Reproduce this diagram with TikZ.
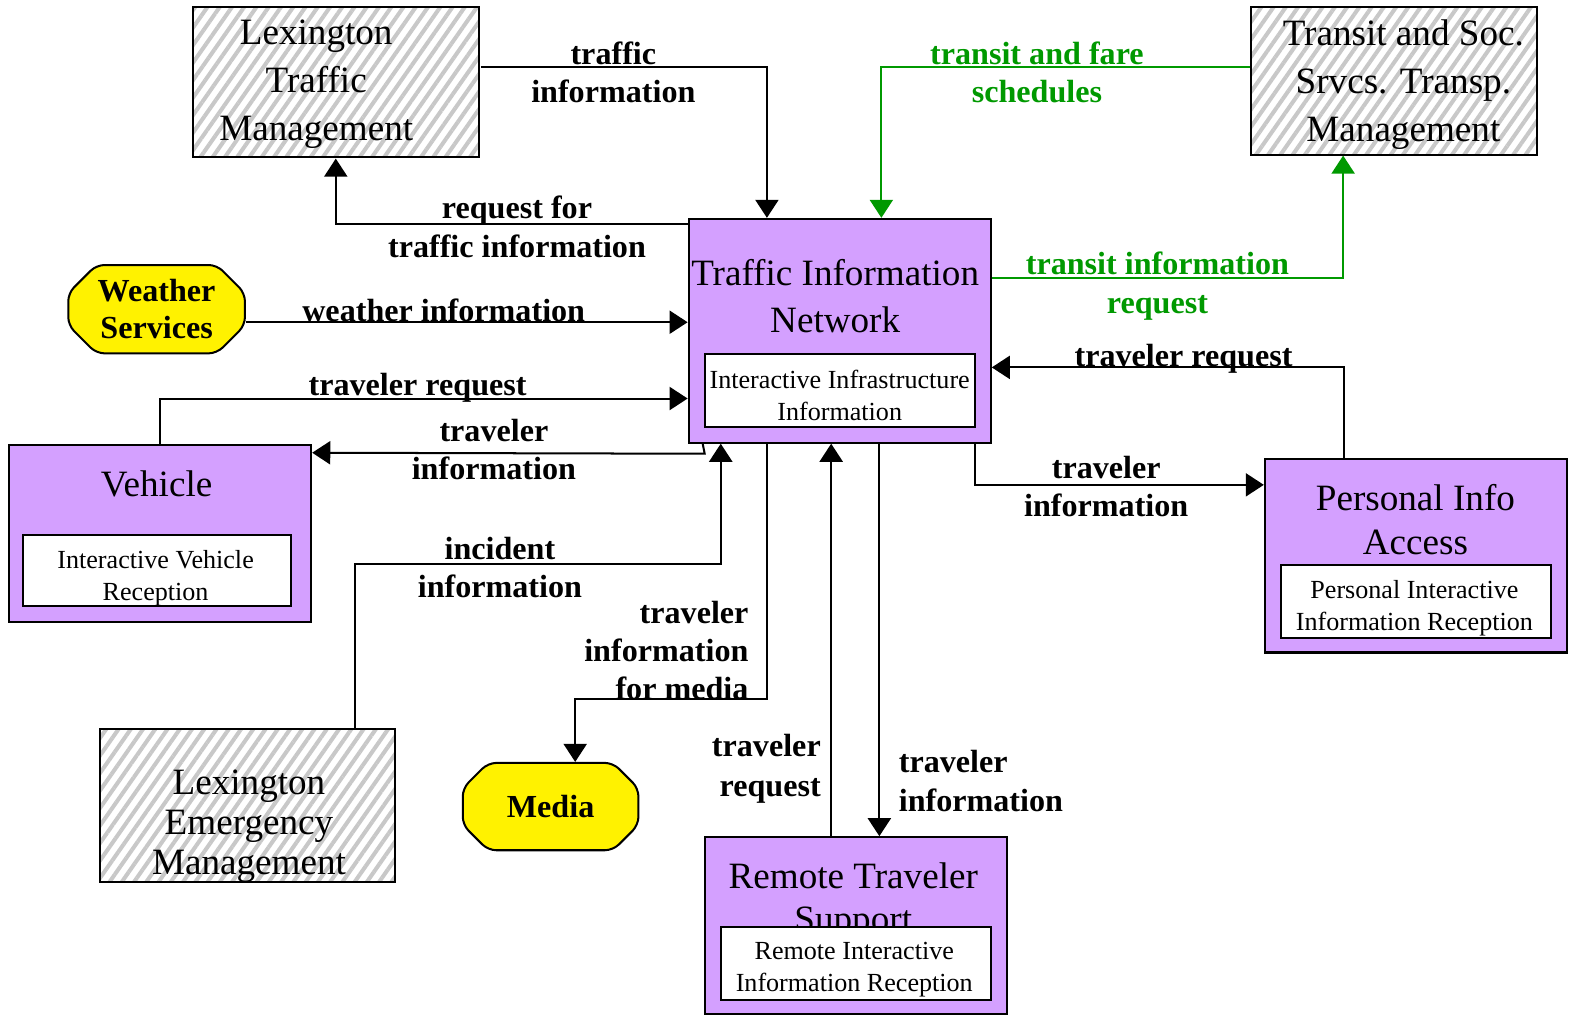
\documentclass[tikz,border=0pt]{standalone}
\usepackage{fontspec}
\setmainfont{Liberation Serif}
\usepackage{tikz}
\usetikzlibrary{arrows.meta,shapes.misc,patterns.meta}
\definecolor{sysviolet}{RGB}{212,160,255}
\definecolor{flowgreen}{RGB}{0,153,0}
\definecolor{hatchgray}{RGB}{200,200,200}

\begin{document}
\begin{tikzpicture}[
    x=0.5pt, y=-0.5pt,
    every node/.style={inner sep=0pt},
    sysbox/.style={draw, fill=sysviolet, line width=1pt},
    extbox/.style={draw, line width=1pt, preaction={fill=white}, pattern={Lines[angle=55,distance=5pt,line width=2pt]}, pattern color=hatchgray},
    termbox/.style={chamfered rectangle, chamfered rectangle angle=45, chamfered rectangle xsep=7pt, chamfered rectangle ysep=7pt, rounded corners=4pt, draw, fill=yellow, line width=1pt, align=center, font=\bfseries\fontsize{16}{18.5}\selectfont},
    subbox/.style={draw, fill=white, line width=1pt},
    subtext/.style={align=center, font=\fontsize{13}{16}\selectfont},
    systitle/.style={align=center, font=\fontsize{18.5}{23.5}\selectfont},
    extname/.style={align=center, font=\fontsize{18.5}{24}\selectfont},
    flowlbl/.style={align=center, font=\bfseries\fontsize{16}{19}\selectfont},
    arr/.style={-{Triangle[length=9pt,width=11.5pt]}, line width=1pt},
    greenarr/.style={arr, draw=flowgreen}
]
\useasboundingbox (0,0) rectangle (1568,1017);

% terminators outside the system
\node[extbox, minimum width=142.5pt, minimum height=74.5pt] (ltm) at (334.5,81.5) {};
\node[extname] (ltmtext) at (315,84) {Lexington\\Traffic\\Management};
\node[extbox, minimum width=142.5pt, minimum height=73.5pt] (tss) at (1388.5,80.5) {};
\node[extname] (tsstext) at (1398,84) {Transit and Soc.\\Srvcs. Transp.\\Management};
\node[extbox, minimum width=146.5pt, minimum height=76.5pt] (lem) at (246.5,802.5) {};
\node[extname, font=\fontsize{18.5}{20}\selectfont] (lemtext) at (248,823) {Lexington\\Emergency\\Management};
\node[termbox, minimum width=88pt, minimum height=44pt] (weather) at (156,308) {Weather\\Services};
\node[termbox, minimum width=87.5pt, minimum height=43.5pt] (media) at (548.5,803.5) {Media};

% subsystems
\node[sysbox, minimum width=150.5pt, minimum height=111.5pt] (tin) at (836.5,329.5) {};
\node[systitle] (tintitle) at (832,295) {Traffic Information\\Network};
\node[subbox, minimum width=134.5pt, minimum height=36pt] (tinsub) at (836.5,389) {};
\node[subtext] (tinsubtext) at (836.5,393.5) {Interactive Infrastructure\\Information};

\node[sysbox, minimum width=150.5pt, minimum height=88.5pt] (veh) at (159.5,531.5) {};
\node[systitle] (vehtitle) at (156,482) {Vehicle};
\node[subbox, minimum width=133.5pt, minimum height=35.5pt] (vehsub) at (156.5,568.5) {};
\node[subtext] (vehsubtext) at (155,576) {Interactive Vehicle\\Reception};

\node[sysbox, minimum width=150.5pt, minimum height=96.5pt] (pia) at (1410.5,553.5) {};
\node[systitle, font=\fontsize{18.5}{22}\selectfont] (piatitle) at (1410,518) {Personal Info\\Access};
\node[subbox, minimum width=134.5pt, minimum height=36.5pt] (piasub) at (1410.5,599.5) {};
\node[subtext] (piasubtext) at (1409,606) {Personal Interactive\\Information Reception};

\node[sysbox, minimum width=150.5pt, minimum height=88pt] (rts) at (852.5,922) {};
\node[systitle, font=\fontsize{18.5}{21.5}\selectfont] (rtstitle) at (850,898) {Remote Traveler\\Support};
\node[subbox, minimum width=134.5pt, minimum height=36.5pt] (rtssub) at (852.5,959.5) {};
\node[subtext] (rtssubtext) at (851,966) {Remote Interactive\\Information Reception};

% bends
\coordinate (incbend) at (718,562);
\coordinate (medbend) at (573,696);

% flows
\draw[arr] ([yshift=7.25pt]ltm.east) -| ([xshift=-36.25pt]tin.north);
\draw[arr] ([yshift=-3pt]tin.north west) -| (ltm.south);
\draw[greenarr] ([yshift=6.75pt]tss.west) -| ([xshift=20.75pt]tin.north);
\draw[greenarr] ([yshift=26.25pt]tin.east) -| ([xshift=-25.25pt]tss.south);
\draw[arr] ([yshift=-6.5pt]weather.east) -- ([yshift=-6.5pt]weather.east -| tin.west);
\draw[arr] (veh.north) |- ([yshift=-33.75pt]tin.west);
\draw[arr] ([xshift=7.5pt]tin.south west) -- ([xshift=8.5pt,yshift=-5pt]tin.south west) -- ([yshift=40.25pt]veh.east);
\draw[arr] ([xshift=53.75pt]lem.north) |- (incbend) -- ([xshift=-59.25pt]tin.south);
\draw[arr] ([xshift=-36.25pt]tin.south) |- (medbend) -- ([xshift=12.25pt]media.north);
\draw[arr] ([xshift=-12.25pt]rts.north) -- ([xshift=-12.25pt]rts.north |- tin.south);
\draw[arr] ([xshift=19.75pt]tin.south) -- ([xshift=19.75pt]tin.south |- rts.north);
\draw[arr] ([xshift=67.25pt]tin.south) |- ([yshift=35.25pt]pia.west);
\draw[arr] ([xshift=-35.75pt]pia.north) |- ([yshift=-18.25pt]tin.east);

% flow labels
\node[flowlbl] (lbltraffic) at (611,72) {traffic\\information};
\node[flowlbl] (lblreqtraffic) at (515,226) {request for\\traffic information};
\node[flowlbl, text=flowgreen] (lblschedules) at (1033,72) {transit and fare\\schedules};
\node[flowlbl, text=flowgreen] (lbltransitreq) at (1153,285) {transit information\\request};
\node[flowlbl] (lblweather) at (442,309) {weather information};
\node[flowlbl] (lblvehreq) at (416,386.5) {traveler request};
\node[flowlbl] (lblvehinfo) at (492,448) {traveler\\information};
\node[flowlbl] (lblincident) at (498,565) {incident\\information};
\node[flowlbl, anchor=east, align=right] (lblmedia) at (746,648) {traveler\\information\\for media};
\node[flowlbl, anchor=east, align=right, font=\bfseries\fontsize{16}{20}\selectfont] (lblrtsreq) at (818,766) {traveler\\request};
\node[flowlbl, anchor=west, align=left] (lblrtsinfo) at (895,778) {traveler\\information};
\node[flowlbl] (lblpiainfo) at (1102,485) {traveler\\information};
\node[flowlbl] (lblpiareq) at (1179,357.5) {traveler request};
\end{tikzpicture}
\end{document}
